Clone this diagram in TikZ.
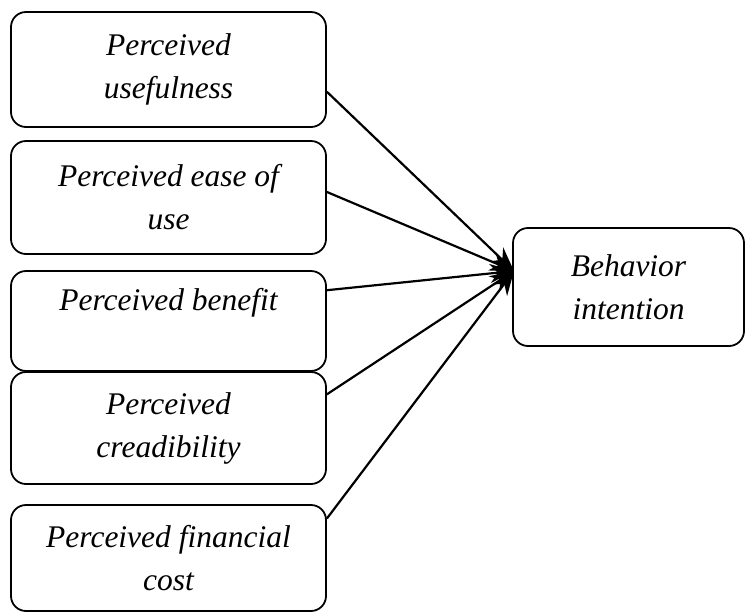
\documentclass[tikz,border=0pt]{standalone}
\usepackage{fontspec}
\setmainfont{Liberation Serif}
\usetikzlibrary{arrows.meta}
\begin{document}
\begin{tikzpicture}[x=1pt, y=-1pt,
    factor/.style={draw, line width=1.8pt, rounded corners=15pt, align=center,
        inner sep=0pt, font=\itshape\fontsize{31.5}{43}\selectfont},
    link/.style={line width=2.2pt, -{Stealth[length=24pt, width=19pt]}}]
    % ----------- 畫布大小 -----------
    \useasboundingbox (0,0) rectangle (745,614);

    % =====================================
    %            左側:各項感知因素
    % =====================================
    \node[factor, minimum width=315pt, minimum height=115pt] (use) at (168.5,69.5)
        {Perceived\\usefulness};
    \node[factor, minimum width=315pt, minimum height=113pt] (ease) at (168.5,197.5)
        {Perceived ease of\\use};
    \node[factor, minimum width=315pt, minimum height=100pt] (bene) at (168.5,321)
        {Perceived benefit\\~};
    \node[factor, minimum width=315pt, minimum height=112pt] (cred) at (168.5,428)
        {Perceived\\creadibility};
    \node[factor, minimum width=315pt, minimum height=106pt] (cost) at (168.5,558)
        {Perceived financial\\cost};

    % =====================================
    %            右側:行為意圖
    % =====================================
    \node[factor, minimum width=231pt, minimum height=118pt] (intent) at (628.5,287)
        {Behavior\\intention};
    \coordinate (tip) at (514,271);

    % 箭頭:全部匯聚到同一點
    \draw[link] (use.-8) -- (tip);
    \draw[link] (ease.2) -- (tip);
    \draw[link] (bene.11) -- (tip);
    \draw[link] (cred.12) -- (tip);
    \draw[link] (cost.14) -- (tip);
\end{tikzpicture}
\end{document}
